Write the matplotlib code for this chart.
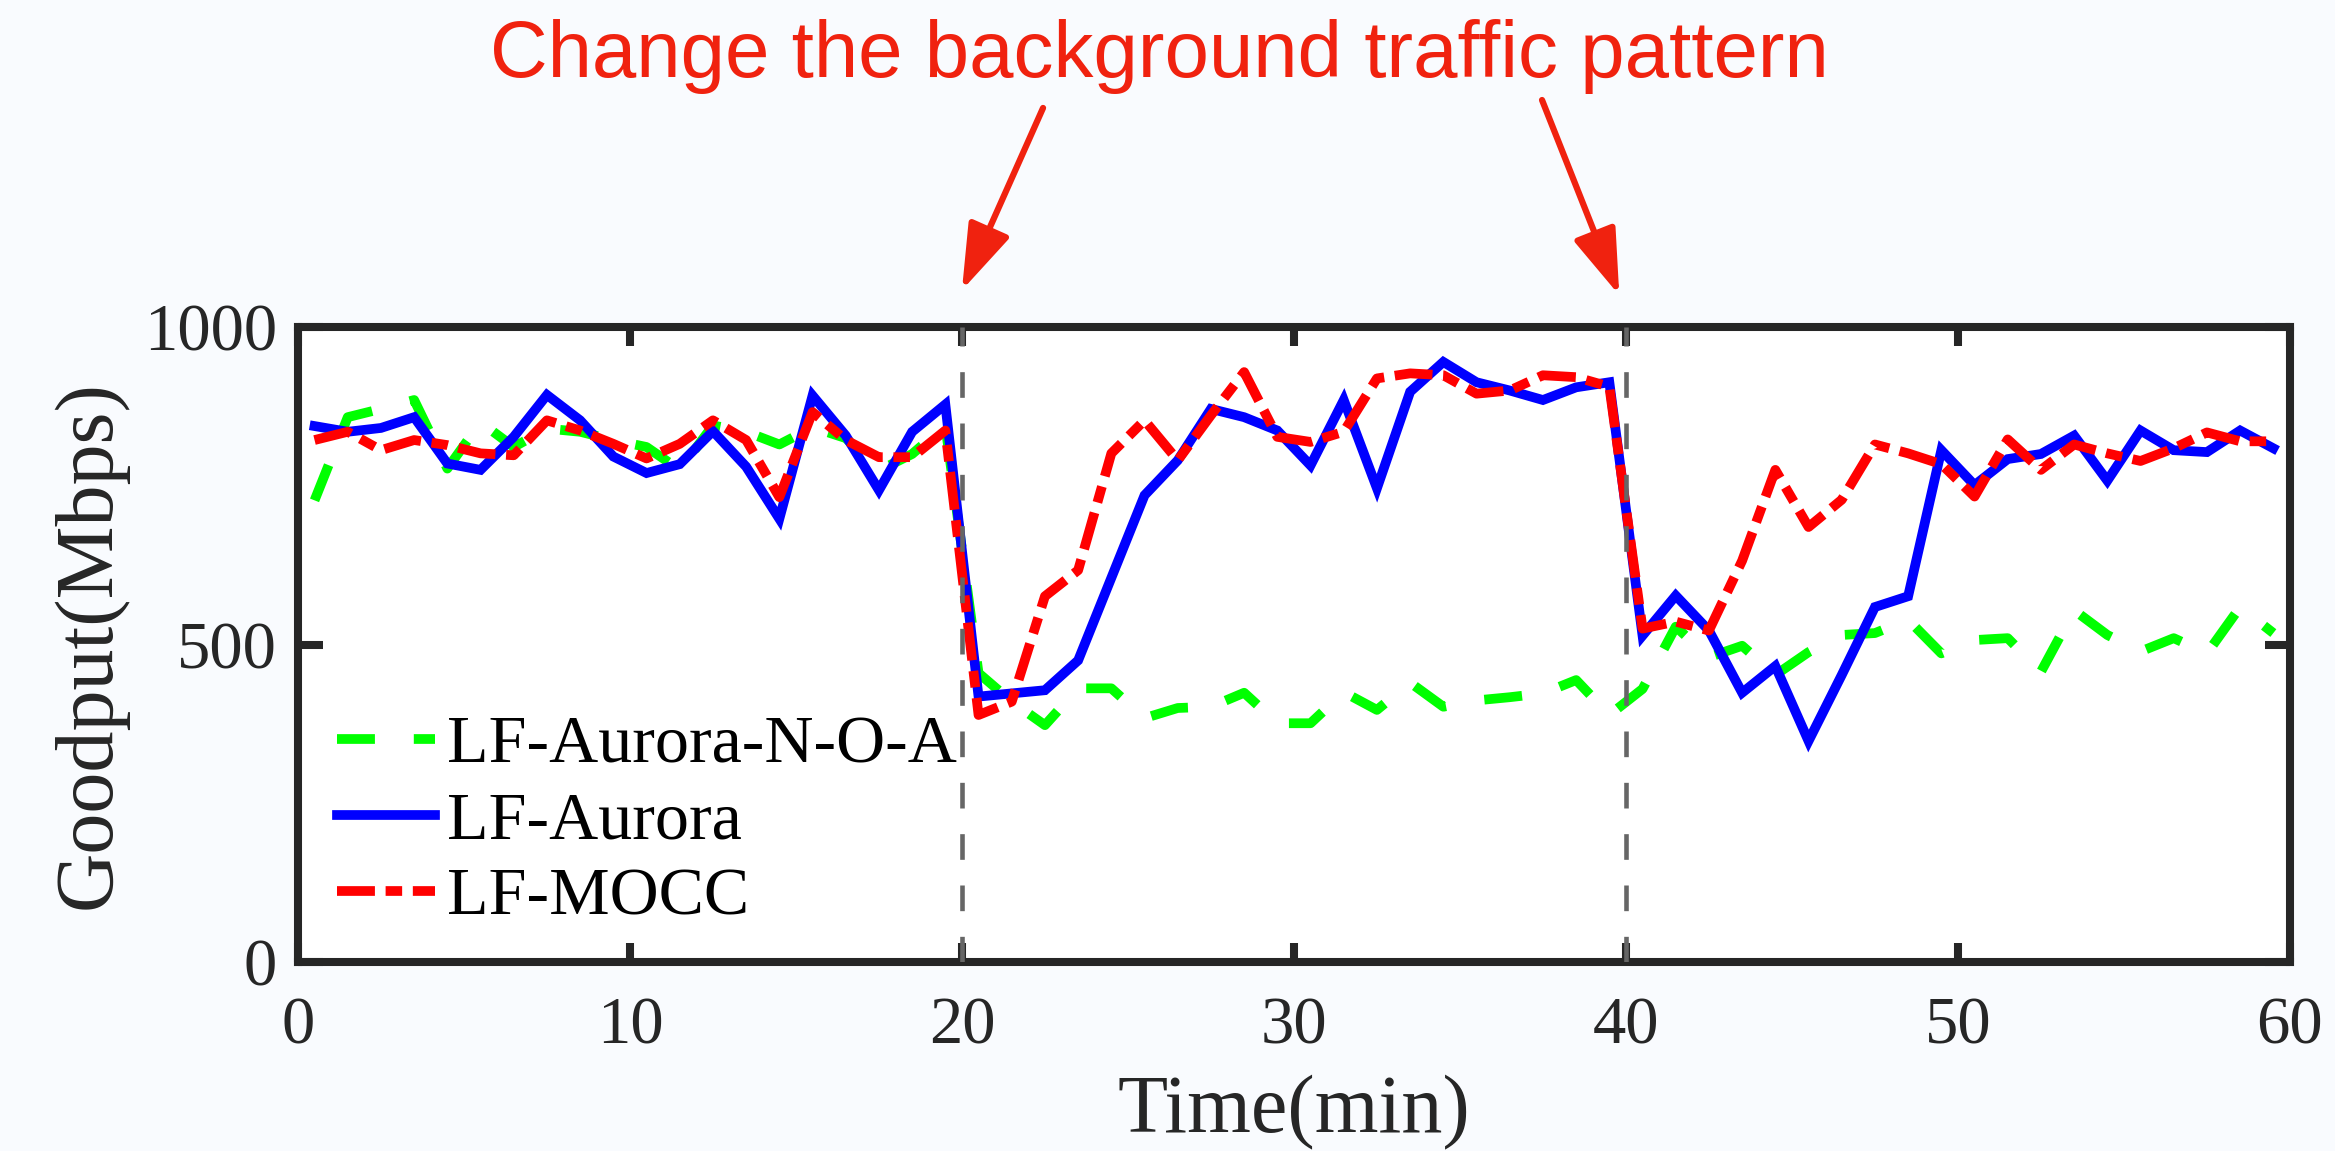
import numpy as np
import matplotlib
matplotlib.use("Agg")
import matplotlib.pyplot as plt

# goodput samples, one per minute (mid-minute)
t_min = np.arange(0.5, 60, 1.0)

lf_aurora_noa = [727, 858, 871, 885, 777, 850, 811, 840, 835, 822,
                 811, 775, 845, 835, 815, 842, 825, 774, 800, 845,
                 455, 410, 373, 431, 431, 384, 400, 402, 424, 376,
                 376, 425, 397, 440, 402, 412, 417, 423, 444, 389,
                 430, 528, 480, 498, 452, 488, 515, 518, 539, 486,
                 507, 510, 457, 554, 515, 489, 510, 486, 559, 518]

lf_aurora = [844, 835, 841, 858, 785, 775, 827, 893, 853, 796,
             770, 784, 836, 780, 698, 892, 829, 743, 835, 878,
             418, 423, 428, 475, 605, 735, 790, 871, 858, 837,
             782, 885, 746, 898, 945, 913, 900, 885, 905, 913,
             514, 577, 522, 424, 466, 348, 452, 559, 576, 806,
             751, 792, 800, 829, 758, 837, 806, 803, 837, 809]

lf_mocc = [822, 835, 806, 822, 814, 801, 798, 853, 837, 816,
           793, 816, 853, 822, 732, 866, 822, 795, 795, 837,
           389, 410, 576, 617, 801, 853, 790, 861, 929, 827,
           819, 835, 919, 927, 924, 895, 900, 924, 921, 906,
           525, 536, 522, 632, 775, 685, 728, 815, 801, 784,
           733, 823, 775, 815, 801, 789, 809, 834, 820, 820]

change_points = [20, 40]
x_ticks = [0, 10, 20, 30, 40, 50, 60]
y_ticks = [0, 500, 1000]
note = "Change the background traffic pattern"

INK = "#262626"
NOTE_RED = "#f0220f"
SERIF = ["Liberation Serif", "DejaVu Serif"]

fig = plt.figure(figsize=(23.35, 11.51), dpi=100, facecolor="#f9fbfe")
ax = fig.add_axes([0.1276, 0.1642, 0.8531, 0.5517])
ax.set_facecolor("white")

lw = 7
ax.plot(t_min, lf_aurora_noa, color="#00ff00", lw=lw, dashes=(3.9, 4.0),
        dash_capstyle="butt", label="LF-Aurora-N-O-A")
ax.plot(t_min, lf_aurora, color="#0000ff", lw=lw, solid_joinstyle="miter",
        label="LF-Aurora")
ax.plot(t_min, lf_mocc, color="#ff0000", lw=lw, dashes=(3.9, 1.1, 1.7, 1.1),
        dash_capstyle="butt", label="LF-MOCC")

for cp in change_points:
    ax.axvline(cp, color="#666666", lw=3.3, dashes=(5.6, 5.6), zorder=5)

ax.set_xlim(0, 60)
ax.set_ylim(0, 1000)
ax.set_xticks(x_ticks)
ax.set_yticks(y_ticks)
for s in ax.spines.values():
    s.set_linewidth(5.8)
    s.set_color(INK)
ax.tick_params(axis="both", direction="in", top=True, right=True,
               width=5.8, color=INK, labelcolor=INK, labelsize=48)
ax.tick_params(axis="x", length=14, pad=25)
ax.tick_params(axis="y", length=18, pad=15)
for lab in ax.get_xticklabels() + ax.get_yticklabels():
    lab.set_family(SERIF)

ax.set_xlabel("Time(min)", fontsize=59, family=SERIF, color=INK, labelpad=12)
ax.set_ylabel("Goodput(Mbps)", fontsize=59, family=SERIF, color=INK, labelpad=12)

leg = ax.legend(loc="center left", bbox_to_anchor=(0.0196, 0.2205),
                frameon=False, borderpad=0, borderaxespad=0,
                handlelength=1.44, handletextpad=0.17, labelspacing=0.21,
                prop={"family": SERIF, "size": 49})

fig.text(0.4964, 0.933, note, ha="center", va="baseline", fontsize=57.5,
         family=["Liberation Sans", "DejaVu Sans"], color=NOTE_RED)

tails = [(0.4467, 0.9062), (0.6604, 0.9131)]
tip_y = [1058, 1050]
tip_dx = [0.0, -0.2]
for cp, tail, ty, dx in zip(change_points, tails, tip_y, tip_dx):
    ax.annotate("", xy=(cp + dx, ty), xycoords="data",
                xytext=tail, textcoords="figure fraction",
                annotation_clip=False,
                arrowprops=dict(arrowstyle="-|>,head_length=0.45,head_width=0.15",
                                mutation_scale=90, lw=4.5, color=NOTE_RED,
                                shrinkA=0, shrinkB=0))

fig.savefig("out.png", dpi=100, facecolor=fig.get_facecolor())
